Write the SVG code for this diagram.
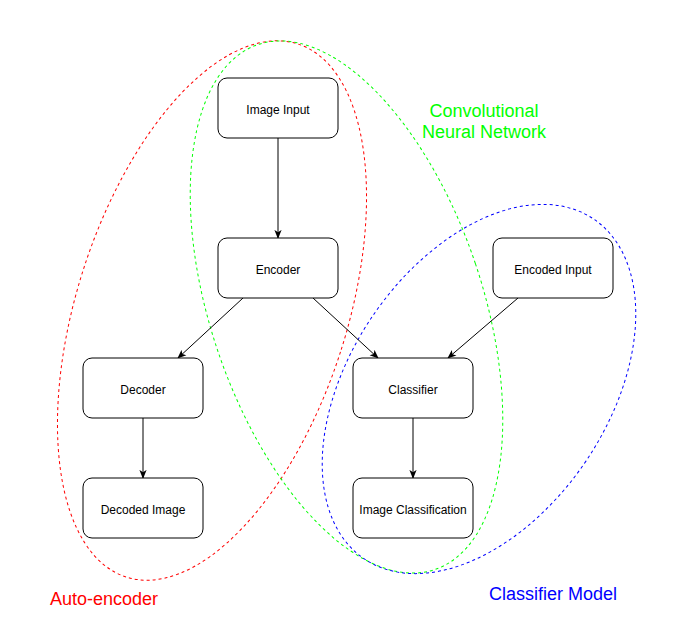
<svg xmlns="http://www.w3.org/2000/svg" width="699" height="630" viewBox="0 0 699 630">
<style>
.node rect{fill:#fff;stroke:#000;stroke-width:1}
.node text{font-family:"Liberation Sans",Arial,sans-serif;font-size:12px;fill:#000;text-anchor:middle}
.edge{stroke:#000;stroke-width:1;fill:none;marker-end:url(#arr)}
.group ellipse{fill:none;stroke-width:1;stroke-dasharray:3 3}
.lbl{font-family:"Liberation Sans",Arial,sans-serif;font-size:18px}
</style>
<defs>
<marker id="arr" viewBox="0 0 10 10" refX="9" refY="5" markerWidth="9" markerHeight="9" markerUnits="userSpaceOnUse" orient="auto">
<path d="M0,1 L10,5 L0,9 L2.5,5 Z" fill="#000"/>
</marker>
</defs>
<rect width="699" height="630" fill="#fff"/>
<g id="groups" class="group">
<ellipse id="autoencoder-ellipse" cx="212" cy="310.5" rx="135" ry="280" transform="rotate(17.85 212 310.5)" stroke="#FF0000"/>
<ellipse id="cnn-ellipse" cx="346.5" cy="307" rx="136" ry="277" transform="rotate(-18.6 346.5 307)" stroke="#00FF00"/>
<ellipse id="classifier-ellipse" cx="479" cy="389" rx="129" ry="205" transform="rotate(34 479 389)" stroke="#0000FF"/>
</g>
<g id="connectors">
<line class="edge" x1="278" y1="138" x2="278" y2="238"/>
<line class="edge" x1="243" y1="298" x2="178" y2="358"/>
<line class="edge" x1="313" y1="298" x2="378" y2="358"/>
<line class="edge" x1="518" y1="298" x2="448" y2="358"/>
<line class="edge" x1="143" y1="418" x2="143" y2="478"/>
<line class="edge" x1="413" y1="418" x2="413" y2="478"/>
</g>
<g id="image-input" class="node"><rect x="218" y="78" width="120" height="60" rx="9"/><text x="278" y="114">Image Input</text></g>
<g id="encoder" class="node"><rect x="218" y="238" width="120" height="60" rx="9"/><text x="278" y="274">Encoder</text></g>
<g id="encoded-input" class="node"><rect x="493" y="238" width="120" height="60" rx="9"/><text x="553" y="274">Encoded Input</text></g>
<g id="decoder" class="node"><rect x="83" y="358" width="120" height="60" rx="9"/><text x="143" y="394">Decoder</text></g>
<g id="classifier" class="node"><rect x="353" y="358" width="120" height="60" rx="9"/><text x="413" y="394">Classifier</text></g>
<g id="decoded-image" class="node"><rect x="83" y="478" width="120" height="60" rx="9"/><text x="143" y="514">Decoded Image</text></g>
<g id="image-classification" class="node"><rect x="353" y="478" width="120" height="60" rx="9"/><text x="413" y="514">Image Classification</text></g>
<g id="labels">
<text class="lbl" x="484" y="117" text-anchor="middle" fill="#00FF00">Convolutional</text>
<text class="lbl" x="484" y="138" text-anchor="middle" fill="#00FF00">Neural Network</text>
<text class="lbl" x="50" y="605" fill="#FF0000">Auto-encoder</text>
<text class="lbl" x="489" y="600" fill="#0000FF">Classifier Model</text>
</g>
</svg>
